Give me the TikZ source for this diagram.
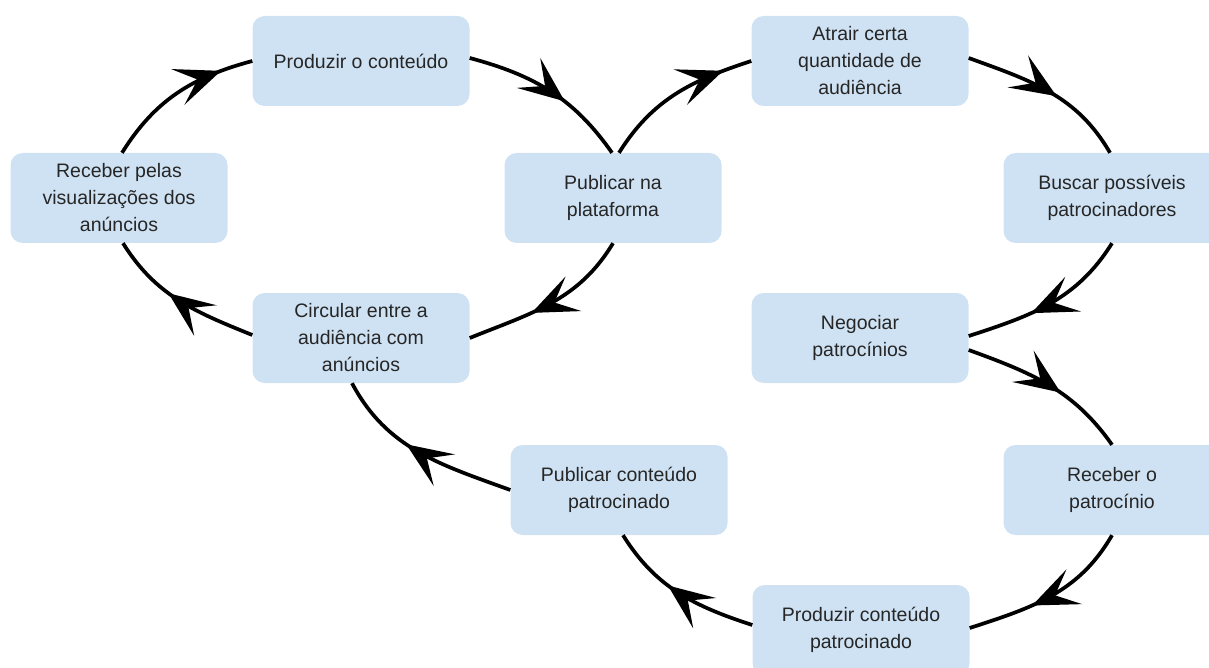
\documentclass[tikz,border=0pt]{standalone}
\usepackage{fontspec}
\setmainfont{Liberation Sans}
\usetikzlibrary{arrows.meta,decorations.markings}
\definecolor{boxfill}{HTML}{CFE2F3}
\definecolor{txt}{HTML}{262626}
\begin{document}
\begin{tikzpicture}[x=1pt,y=1pt,
  box/.style={fill=boxfill, rounded corners=12pt, minimum width=217pt, minimum height=90pt,
    align=center, text=txt, font=\fontsize{19.5}{27}\selectfont, inner sep=0pt},
  conn/.style={line width=3.7pt, postaction={decorate},
    decoration={markings, mark=at position #1 with
      {\arrow{Stealth[length=46pt,width=38pt,inset=21pt,line width=2pt]}}}},
]
\clip (0,0) rectangle (1209,-668);
\useasboundingbox (0,0) rectangle (1209,-668);

\node[box] (prod)  at (361,-61)  {Produzir o conteúdo};
\node[box] (rec)   at (119,-198) {Receber pelas\\visualizações dos\\anúncios};
\node[box] (pub)   at (613,-198) {Publicar na\\plataforma};
\node[box] (circ)  at (361,-338) {Circular entre a\\audiência com\\anúncios};
\node[box] (atr)   at (860,-61)  {Atrair certa\\quantidade de\\audiência};
\node[box] (busc)  at (1112,-198) {Buscar possíveis\\patrocinadores};
\node[box] (neg)   at (860,-338) {Negociar\\patrocínios};
\node[box] (recp)  at (1112,-490) {Receber o\\patrocínio};
\node[box] (pubp)  at (619,-490) {Publicar conteúdo\\patrocinado};
\node[box] (prodp) at (861,-630) {Produzir conteúdo\\patrocinado};

\draw[conn=0.8]  ([xshift=3pt]rec.north) to[out=58,in=195] (prod.west);
\draw[conn=0.6]  ([yshift=3pt]prod.east) to[out=-15,in=125] ([xshift=-1pt]pub.north);
\draw[conn=0.82] ([xshift=6pt]pub.north) to[out=58,in=198] (atr.west);
\draw[conn=0.55] ([yshift=3pt]atr.east) to[out=-20,in=120] ([xshift=-2pt]busc.north);
\draw[conn=0.62] (busc.south) to[out=-122,in=18] ([yshift=2pt]neg.east);
\draw[conn=0.58] ([yshift=-12pt]neg.east) to[out=-20,in=125] (recp.north);
\draw[conn=0.62] (recp.south) to[out=-120,in=18] ([yshift=2pt]prodp.east);
\draw[conn=0.58] ([yshift=5pt]prodp.west) to[out=162,in=-58] ([xshift=4pt]pubp.south);
\draw[conn=0.58] (pubp.west) to[out=160,in=-62] ([xshift=-9pt]circ.south);
\draw[conn=0.62] (pub.south) to[out=-121,in=22] (circ.east);
\draw[conn=0.58] ([yshift=3pt]circ.west) to[out=158,in=-58] ([xshift=4pt]rec.south);
\end{tikzpicture}
\end{document}
